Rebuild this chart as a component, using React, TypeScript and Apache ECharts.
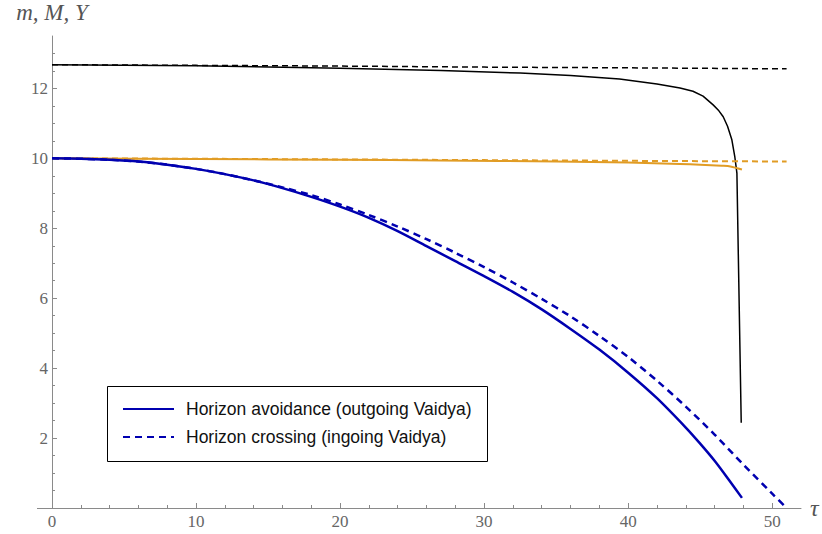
import { useEffect, useRef } from 'react';
import * as echarts from 'echarts';

// Horizon avoidance (outgoing Vaidya) – blue solid
const avoidTau = [0, 2, 4, 6, 8, 10, 12, 14, 16, 18, 20, 22, 24, 26, 28, 30, 32, 34, 36, 38, 40, 42, 44, 45, 46, 47, 47.9];
const avoidValue = [10.0, 9.99, 9.96, 9.91, 9.82, 9.7, 9.55, 9.37, 9.15, 8.9, 8.62, 8.3, 7.92, 7.49, 7.06, 6.63, 6.18, 5.68, 5.12, 4.53, 3.87, 3.14, 2.3, 1.84, 1.35, 0.8, 0.29];

// Horizon crossing (ingoing Vaidya) – blue dashed
const crossTau = [0, 2, 4, 6, 8, 10, 12, 14, 16, 18, 20, 22, 24, 26, 28, 30, 32, 34, 36, 38, 40, 42, 44, 46, 48, 50, 51];
const crossValue = [10.0, 9.99, 9.96, 9.91, 9.82, 9.7, 9.55, 9.37, 9.17, 8.95, 8.68, 8.38, 8.05, 7.69, 7.3, 6.89, 6.45, 5.98, 5.48, 4.92, 4.32, 3.64, 2.9, 2.1, 1.24, 0.41, 0.0];

// black solid
const blackTau = [0, 10, 20, 27, 32.5, 36, 39.4, 42, 43.6, 44.5, 45.2, 45.9, 46.3, 46.6, 46.9, 47.2, 47.4, 47.55, 47.85];
const blackValue = [12.68, 12.65, 12.58, 12.51, 12.44, 12.37, 12.27, 12.13, 12.01, 11.92, 11.78, 11.53, 11.36, 11.19, 10.92, 10.53, 10.06, 9.58, 2.44];

// black dashed
const blackDashTau = [0, 10, 20, 30, 40, 51];
const blackDashValue = [12.68, 12.66, 12.64, 12.61, 12.59, 12.56];

// orange solid
const orangeTau = [0, 10, 20, 27, 35, 40, 43.6, 45, 46.5, 47.1, 47.9];
const orangeValue = [10.0, 9.98, 9.96, 9.94, 9.91, 9.88, 9.84, 9.82, 9.79, 9.77, 9.68];

// orange dashed
const orangeDashTau = [0, 10, 20, 30, 40, 51];
const orangeDashValue = [10.0, 9.99, 9.97, 9.95, 9.93, 9.91];

const xTicks = [0, 10, 20, 30, 40, 50];
const yTicks = [2, 4, 6, 8, 10, 12];
const legendNames = ['Horizon avoidance (outgoing Vaidya)', 'Horizon crossing (ingoing Vaidya)'];
const xName = 'τ';
const yName = 'm, M, Y';

const zip = (a: number[], b: number[]) => a.map((t, i) => [t, b[i]]);

const BLUE = '#0000b0';
const ORANGE = '#e19c24';
const AXIS = '#8a8a8a';
const LABEL = '#666666';
const SERIF = '"Liberation Serif", "DejaVu Serif", serif';
const SANS = '"Liberation Sans", Arial, sans-serif';

export default function App() {
  const ref = useRef<HTMLDivElement>(null);
  useEffect(() => {
    const chart = echarts.init(ref.current!, null, { renderer: 'svg' });
    const lineSeries = (name: string, data: number[][], color: string, width: number, type: any, z: number, smooth: any) => ({
      type: 'line',
      name,
      data,
      symbol: 'none',
      smooth,
      silent: true,
      z,
      lineStyle: { color, width, type },
    });
    chart.setOption({
      animation: false,
      backgroundColor: '#ffffff',
      grid: { left: 52, right: 21, top: 36, bottom: 26 },
      xAxis: {
        type: 'value',
        min: 0,
        max: 52,
        interval: 10,
        name: xName,
        nameLocation: 'end',
        nameGap: 9,
        nameTextStyle: { fontFamily: SERIF, fontStyle: 'italic', fontSize: 24, color: '#555' },
        axisLine: { show: true, lineStyle: { color: AXIS, width: 1 } },
        axisTick: { show: true, inside: true, length: 5, customValues: xTicks, lineStyle: { color: AXIS } },
        minorTick: { show: true, splitNumber: 5, length: 3, lineStyle: { color: AXIS } },
        axisLabel: { customValues: xTicks, fontFamily: SERIF, fontSize: 17, color: LABEL, margin: 5 },
        splitLine: { show: false },
        minorSplitLine: { show: false },
      },
      yAxis: {
        type: 'value',
        min: 0,
        max: 13.5,
        interval: 2,
        name: yName,
        nameLocation: 'end',
        nameGap: 12,
        nameTextStyle: { fontFamily: SERIF, fontStyle: 'italic', fontSize: 23, color: '#555' },
        axisLine: { show: true, lineStyle: { color: AXIS, width: 1 } },
        axisTick: { show: true, inside: true, length: 5, customValues: yTicks, lineStyle: { color: AXIS } },
        minorTick: { show: true, splitNumber: 4, length: 3, lineStyle: { color: AXIS } },
        axisLabel: { customValues: yTicks, fontFamily: SERIF, fontSize: 17, color: LABEL, margin: 4 },
        splitLine: { show: false },
        minorSplitLine: { show: false },
      },
      series: [
        lineSeries('black dashed', zip(blackDashTau, blackDashValue), '#000', 1.5, [6, 4], 2, false),
        lineSeries('black', zip(blackTau, blackValue), '#000', 1.5, 'solid', 2, false),
        lineSeries('orange dashed', zip(orangeDashTau, orangeDashValue), ORANGE, 2, [6, 4], 3, false),
        lineSeries('orange', zip(orangeTau, orangeValue), ORANGE, 2, 'solid', 3, 0.3),
        lineSeries(legendNames[1], zip(crossTau, crossValue), BLUE, 2.5, [7, 5], 4, 0.3),
        lineSeries(legendNames[0], zip(avoidTau, avoidValue), BLUE, 2.5, 'solid', 4, 0.3),
      ],
      graphic: [
        {
          type: 'line',
          shape: { x1: 37, y1: 508.5, x2: 52, y2: 508.5 },
          style: { stroke: AXIS, lineWidth: 1 },
          silent: true,
        },
        {
          type: 'group',
          left: 107,
          top: 386,
          children: [
            {
              type: 'rect',
              shape: { x: 0.5, y: 0.5, width: 380, height: 75 },
              style: { fill: '#fff', stroke: '#000', lineWidth: 1 },
            },
            {
              type: 'line',
              shape: { x1: 16, y1: 23, x2: 67, y2: 23 },
              style: { stroke: BLUE, lineWidth: 2 },
            },
            {
              type: 'line',
              shape: { x1: 16, y1: 51, x2: 67, y2: 51 },
              style: { stroke: BLUE, lineWidth: 2, lineDash: [7, 5] },
            },
            {
              type: 'text',
              x: 79,
              y: 23,
              style: { text: legendNames[0], fontFamily: SANS, fontSize: 17.5, fill: '#111', verticalAlign: 'middle' },
            },
            {
              type: 'text',
              x: 79,
              y: 51,
              style: { text: legendNames[1], fontFamily: SANS, fontSize: 17.5, fill: '#111', verticalAlign: 'middle' },
            },
          ],
        },
      ],
    });
    return () => chart.dispose();
  }, []);
  return (
    <div
      ref={ref}
      style={{ position: 'fixed', left: 0, top: 0, width: 822, height: 534, background: '#fff' }}
    />
  );
}
